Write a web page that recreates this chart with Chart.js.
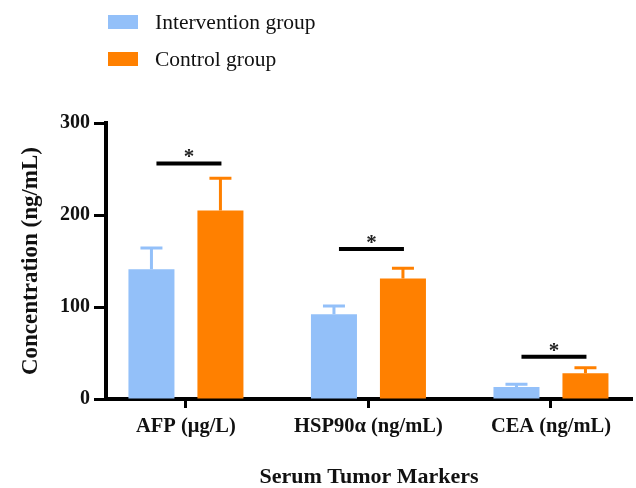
<!DOCTYPE html>
<html>
<head>
<meta charset="utf-8">
<script src="https://cdn.jsdelivr.net/npm/chart.js@4"></script>
<style>
  html,body{margin:0;padding:0;background:#fff;}
  #wrap{width:636px;height:488px;position:relative;}
</style>
</head>
<body>
<div id="wrap"><canvas id="chart" width="636" height="488"></canvas></div>
<script>
// data
const categories = ['AFP (μg/L)', 'HSP90α (ng/mL)', 'CEA (ng/mL)'];
const seriesNames = ['Intervention group', 'Control group'];
const intervention = [141, 92, 13];
const interventionErr = [23, 9, 3];
const control = [205, 131, 28];
const controlErr = [35, 11, 6];
const sigLevels = [256, 163, 46];
const yTicks = [0, 100, 200, 300];

const blue = '#93c0f9';
const orange = '#ff8000';
const serif = "'Liberation Serif', 'Times New Roman', serif";

// error bars, significance bars and the legend
const extras = {
  id: 'extras',
  afterDatasetsDraw(chart){
    const ctx = chart.ctx;
    const y = chart.scales.y;
    const errs = [interventionErr, controlErr];
    ctx.save();
    chart.data.datasets.forEach((ds, d)=>{
      const meta = chart.getDatasetMeta(d);
      meta.data.forEach((bar, i)=>{
        const top = y.getPixelForValue(ds.data[i].y + errs[d][i]);
        ctx.strokeStyle = ds.backgroundColor;
        ctx.lineWidth = 3;
        ctx.beginPath();
        ctx.moveTo(bar.x, bar.y);
        ctx.lineTo(bar.x, top);
        ctx.moveTo(bar.x - 11, top);
        ctx.lineTo(bar.x + 11, top);
        ctx.stroke();
      });
    });
    // significance
    const m0 = chart.getDatasetMeta(0), m1 = chart.getDatasetMeta(1);
    ctx.font = 'bold 21px ' + serif;
    ctx.textAlign = 'center';
    ctx.textBaseline = 'alphabetic';
    sigLevels.forEach((v, i)=>{
      const ly = y.getPixelForValue(v);
      const x1 = m0.data[i].x + 5, x2 = m1.data[i].x + 1;
      ctx.strokeStyle = '#000';
      ctx.lineWidth = 4;
      ctx.beginPath();
      ctx.moveTo(x1, ly); ctx.lineTo(x2, ly);
      ctx.stroke();
      const mt = ctx.measureText('*');
      const cy = ly - 10;
      ctx.fillStyle = '#222';
      ctx.fillText('*', (x1 + x2)/2, cy + (mt.actualBoundingBoxAscent - mt.actualBoundingBoxDescent)/2);
    });
    ctx.restore();
  },
  afterDraw(chart){
    const ctx = chart.ctx;
    ctx.save();
    ctx.font = '21.5px ' + serif;
    ctx.textBaseline = 'middle';
    ctx.textAlign = 'left';
    chart.data.datasets.forEach((ds, d)=>{
      const cy = 22 + d * 37;
      ctx.fillStyle = ds.backgroundColor;
      ctx.fillRect(108, cy - 7, 30, 14);
      ctx.fillStyle = '#111';
      ctx.fillText(ds.label, 155, cy + 1);
    });
    ctx.restore();
  }
};

new Chart(document.getElementById('chart'), {
  type: 'bar',
  data: {
    datasets: [
      { label: seriesNames[0], data: intervention.map((v,i)=>({x:i, y:v})), backgroundColor: blue },
      { label: seriesNames[1], data: control.map((v,i)=>({x:i, y:v})), backgroundColor: orange }
    ]
  },
  options: {
    responsive: false,
    animation: false,
    categoryPercentage: 0.756,
    barPercentage: 0.667,
    layout: { padding: { top: 123, right: 4, bottom: 0, left: 0 } },
    plugins: { legend: { display: false }, tooltip: { enabled: false } },
    scales: {
      x: {
        type: 'linear',
        offset: false,
        min: -0.438,
        max: 2.444,
        afterBuildTicks: s => { s.ticks = categories.map((c,i)=>({ value: i })); },
        afterFit: s => { s.height = 89; },
        grid: { offset: false, drawOnChartArea: false, tickLength: 9, tickWidth: 3, tickColor: '#000' },
        border: { display: true, width: 4, color: '#000' },
        ticks: {
          padding: 6,
          color: '#111',
          font: { family: serif, size: 20.5, weight: 'bold' },
          callback: v => categories[v] ?? ''
        },
        title: {
          display: true,
          text: 'Serum Tumor Markers',
          color: '#111',
          font: { family: serif, size: 22, weight: 'bold', lineHeight: 1 },
          padding: { top: 0, bottom: 0 }
        }
      },
      y: {
        min: 0,
        max: 300,
        afterBuildTicks: s => { s.ticks = yTicks.map(v=>({ value: v })); },
        afterFit: s => { s.width = 106; },
        grid: { drawOnChartArea: false, tickLength: 12, tickWidth: 3, tickColor: '#000' },
        border: { display: true, width: 4, color: '#000' },
        ticks: {
          padding: 4,
          color: '#111',
          font: { family: serif, size: 20, weight: 'bold' }
        },
        title: {
          display: true,
          text: 'Concentration (ng/mL)',
          color: '#111',
          font: { family: serif, size: 23, weight: 'bold', lineHeight: 1 },
          padding: { top: 20, bottom: 0 }
        }
      }
    }
  },
  plugins: [extras]
});
</script>
</body>
</html>
